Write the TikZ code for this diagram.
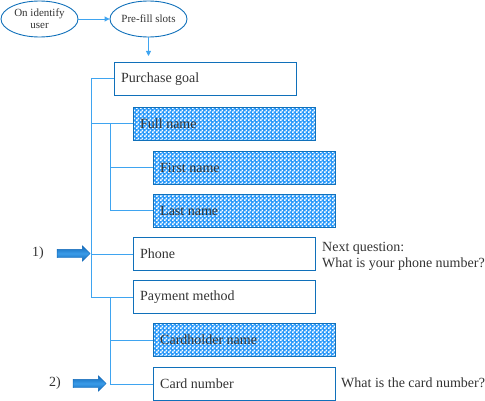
\documentclass[tikz,border=0pt]{standalone}
\usepackage{fontspec}
\setmainfont{Liberation Serif}
\usetikzlibrary{shapes.arrows,shapes.geometric,patterns,arrows.meta}
\definecolor{boxblue}{HTML}{1070BA}
\definecolor{linkblue}{HTML}{3FA4F0}
\definecolor{fillblue}{HTML}{2898FA}
\definecolor{txt}{HTML}{333333}
\definecolor{arrowblue}{HTML}{1068B8}
\definecolor{arrowlight}{HTML}{3A9BE8}
\pgfdeclarepatternformonly{checks}{\pgfqpoint{0pt}{0pt}}{\pgfqpoint{4pt}{4pt}}{\pgfqpoint{4pt}{4pt}}{%
  \pgfpathrectangle{\pgfqpoint{0pt}{0pt}}{\pgfqpoint{2pt}{2pt}}%
  \pgfpathrectangle{\pgfqpoint{2pt}{2pt}}{\pgfqpoint{2pt}{2pt}}%
  \pgfusepath{fill}}
\begin{document}
\begin{tikzpicture}[x=1pt,y=-1pt,
  every node/.style={text=txt},
  oval/.style={draw=boxblue,line width=0.9pt,ellipse,minimum width=77pt,minimum height=36pt,inner sep=0pt,font=\fontsize{11}{12}\selectfont,align=center},
  slot/.style={draw=boxblue,line width=0.9pt,minimum width=182pt,minimum height=33pt,anchor=north west,inner sep=0pt},
  filled/.style={slot,preaction={fill=fillblue},pattern=checks,pattern color=white},
  stext/.style={anchor=west,font=\fontsize{14}{16}\selectfont,inner sep=0pt,xshift=7pt},
  link/.style={draw=linkblue,line width=0.9pt},
  conn/.style={draw=linkblue,line width=0.9pt,-{Triangle[length=5pt,width=5pt]}},
  bigarrow/.style={single arrow,draw=arrowblue,line width=0.4pt,top color=arrowblue,bottom color=arrowblue,middle color=arrowlight,minimum height=33pt,minimum width=15pt,single arrow head extend=3.5pt,inner sep=4pt},
  lbl/.style={font=\fontsize{14}{16}\selectfont,align=left,anchor=west,inner sep=0pt}
]
\useasboundingbox (0,0) rectangle (485,401);
\node[oval] (u) at (39.5,19) {On identify\\user};
\node[oval] (p) at (148.5,19) {Pre-fill slots};
\draw[conn] (u.east) -- (p.west);
\coordinate (pin) at (148.5,56);
\draw[conn] (p.south) -- (pin);

\node[slot] (pg) at (114,62) {};
\node[stext] at (pg.west) {Purchase goal};
\node[filled] (fn) at (133,107) {};
\node[stext] at (fn.west) {Full name};
\node[filled] (fi) at (153,151) {};
\node[stext] at (fi.west) {First name};
\node[filled] (la) at (153,194) {};
\node[stext] at (la.west) {Last name};
\node[slot] (ph) at (133,237) {};
\node[stext] at (ph.west) {Phone};
\node[slot] (pm) at (133,280) {};
\node[stext] at (pm.west) {Payment method};
\node[filled] (ch) at (153,323) {};
\node[stext] at (ch.west) {Cardholder name};
\node[slot] (cn) at (153,367) {};
\node[stext] at (cn.west) {Card number};

% tree
\path[link] (pg.west) -| (91,0 |- pm.west) -- (pm.west);
\path[link] (91,0 |- fn.west) -- (fn.west);
\path[link] (91,0 |- ph.west) -- (ph.west);
\path[link] (110,0 |- fn.west) |- (la.west);
\path[link] (110,0 |- fi.west) -- (fi.west);
\path[link] (110,0 |- pm.west) |- (cn.west);
\path[link] (110,0 |- ch.west) -- (ch.west);

% markers
\node[bigarrow] (a1) at (71.5,253.5) {};
\node[font=\fontsize{14}{16}\selectfont] (l1) at (38,253.5) {1)};
\node[bigarrow] (a2) at (87.5,383.5) {};
\node[font=\fontsize{14}{16}\selectfont] (l2) at (55,383.5) {2)};

\node[lbl] (q1) at (322,256) {Next question:\\What is your phone number?};
\node[lbl] (q2) at (341,383) {What is the card number?};
\end{tikzpicture}
\end{document}
